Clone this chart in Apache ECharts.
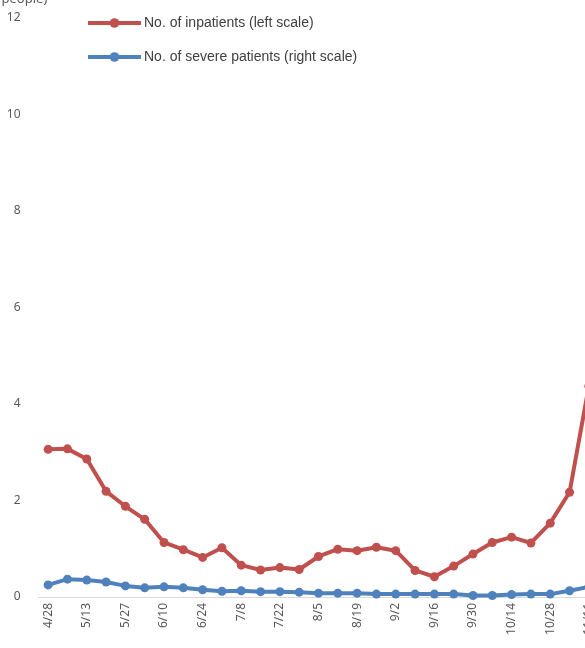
<!DOCTYPE html>
<html><head><meta charset="utf-8">
<script src="https://cdn.jsdelivr.net/npm/echarts@6/dist/echarts.min.js"></script>
<style>html,body{margin:0;padding:0;background:#fff;overflow:hidden;}#c{width:600px;height:648px;}</style>
</head><body><div id="c"></div>
<script>
const categories = ['4/28','5/6','5/13','5/20','5/27','6/3','6/10','6/17','6/24','7/1','7/8','7/15','7/22','7/29','8/5','8/12','8/19','8/26','9/2','9/9','9/16','9/23','9/30','10/7','10/14','10/21','10/28','11/4','11/11'];
const inpatients = [3.06,3.07,2.86,2.19,1.88,1.61,1.13,0.98,0.82,1.02,0.66,0.56,0.61,0.57,0.84,0.99,0.96,1.03,0.96,0.55,0.42,0.64,0.89,1.13,1.24,1.12,1.53,2.17,4.37];
const severe = [0.25,0.37,0.35,0.31,0.23,0.19,0.21,0.19,0.15,0.12,0.13,0.11,0.11,0.10,0.08,0.08,0.08,0.06,0.06,0.06,0.06,0.06,0.03,0.03,0.05,0.06,0.06,0.13,0.21];
const seriesNames = ['No. of inpatients (left scale)','No. of severe patients (right scale)'];
const unitLabel = '(1,000 people)';

const chart = echarts.init(document.getElementById('c'));
chart.setOption({
  animation:false,
  backgroundColor:'#fff',
  graphic:[{type:'text',left:-39,top:-7,style:{text:unitLabel,fill:'#595959',font:'13px "Noto Sans"'}}],
  legend:{orient:'vertical',left:81,top:11,itemWidth:53,itemHeight:12,itemGap:20,
    lineStyle:{width:4},
    textStyle:{color:'#404040',fontSize:14,fontFamily:'"Liberation Sans", Arial',padding:[0,0,0,-2]},
    data:seriesNames},
  grid:{left:38.5,top:18,bottom:51,width:560,containLabel:false},
  xAxis:{type:'category',data:categories,boundaryGap:true,
    axisLine:{lineStyle:{color:'#d9d9d9',width:1}},axisTick:{show:false},
    axisLabel:{rotate:90,interval:1,color:'#595959',fontSize:12,fontFamily:'"Noto Sans"',margin:6}},
  yAxis:[{type:'value',min:0,max:12,interval:2,splitLine:{show:false},axisLine:{show:false},axisTick:{show:false},
    axisLabel:{color:'#595959',fontSize:12,fontFamily:'"Noto Sans"',margin:18}},
    {type:'value',min:0,max:12,interval:2,show:false,splitLine:{show:false}}],
  series:[
    {name:seriesNames[0],type:'line',data:inpatients,yAxisIndex:0,symbol:'circle',symbolSize:9,
     itemStyle:{color:'#c0504d'},lineStyle:{color:'#c0504d',width:4}},
    {name:seriesNames[1],type:'line',data:severe,yAxisIndex:1,symbol:'circle',symbolSize:9,
     itemStyle:{color:'#4f81bd'},lineStyle:{color:'#4f81bd',width:4}}
  ]
});
</script></body></html>
